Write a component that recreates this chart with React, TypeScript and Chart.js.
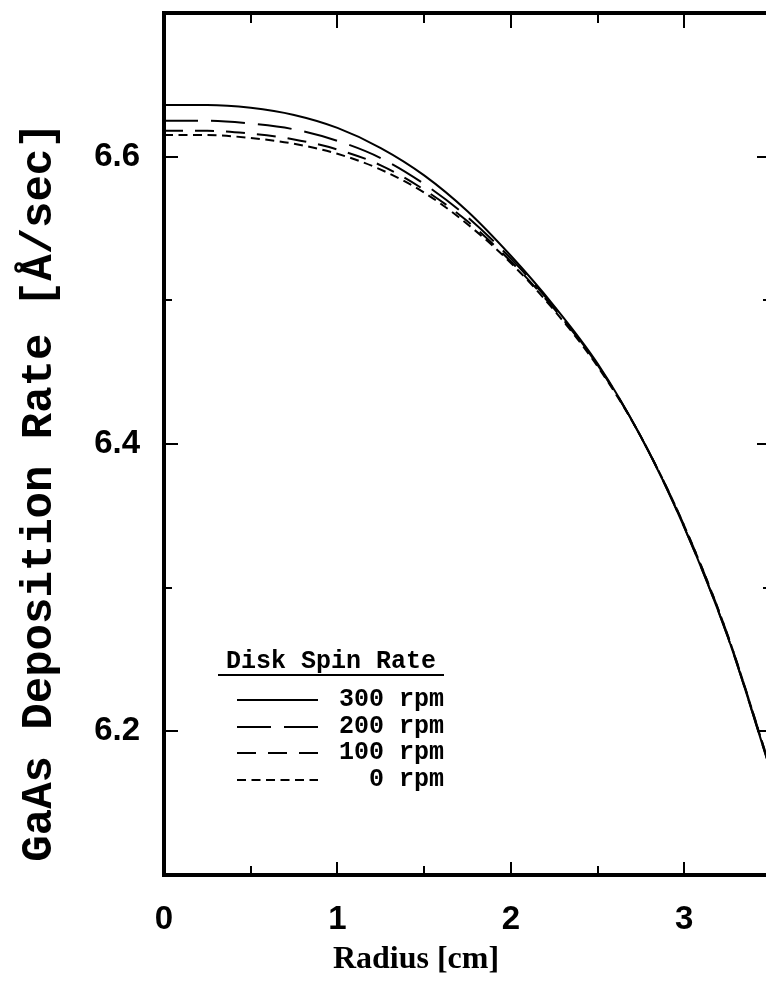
import React, { useEffect, useRef } from 'react';
import { Chart, registerables } from 'chart.js';

Chart.register(...registerables);

// ---- data ----
const RADIUS = [0, 0.25, 0.5, 0.75, 1.0, 1.25, 1.5, 1.75, 2.0, 2.25, 2.5, 2.75, 3.0, 3.25, 3.5];
const RATE_300 = [6.636, 6.636, 6.634, 6.629, 6.620, 6.606, 6.587, 6.562, 6.531, 6.496, 6.456, 6.405, 6.342, 6.266, 6.172];
const RATE_200 = [6.625, 6.625, 6.623, 6.619, 6.611, 6.599, 6.581, 6.558, 6.529, 6.495, 6.455, 6.405, 6.342, 6.266, 6.172];
const RATE_100 = [6.618, 6.618, 6.616, 6.612, 6.605, 6.594, 6.577, 6.555, 6.527, 6.494, 6.455, 6.405, 6.343, 6.267, 6.173];
const RATE_0 = [6.615, 6.615, 6.613, 6.609, 6.602, 6.591, 6.575, 6.553, 6.526, 6.493, 6.454, 6.405, 6.343, 6.267, 6.173];

const SERIES_LABELS = ['300 rpm', '200 rpm', '100 rpm', '0 rpm'];
const SERIES_DASH = [[], [34, 13], [19, 12], [9, 5.5]];

const X_TICK_LABELS = [0, 1, 2, 3];
const Y_TICK_LABELS = [6.2, 6.4, 6.6];
const X_TICK_MARKS = [0.5, 1, 1.5, 2, 2.5, 3];
const Y_TICK_MARKS = [6.2, 6.3, 6.4, 6.5, 6.6];

const X_TITLE = 'Radius [cm]';
const Y_TITLE = 'GaAs Deposition Rate [Å/sec]';
const LEGEND_TITLE = 'Disk Spin Rate';

const X_MIN = 0;
const X_MAX = 3.5;
const Y_MIN = 6.1;
const Y_MAX = 6.7;

const MONO = '"Liberation Mono", "DejaVu Sans Mono", monospace';
const SERIF = '"Liberation Serif", "DejaVu Serif", serif';
const SANS = '"Liberation Sans", Arial, sans-serif';

const isMajor = (v: number, step: number) => Math.abs(v / step - Math.round(v / step)) < 1e-6;

const decorPlugin = {
  id: 'decor',
  afterDatasetsDraw(chart: any) {
    const { ctx, chartArea: a, scales } = chart;
    const x = scales.x;
    const y = scales.y;
    ctx.save();
    ctx.strokeStyle = '#000';
    ctx.lineCap = 'butt';
    ctx.lineWidth = 2;
    ctx.beginPath();
    for (const v of X_TICK_MARKS) {
      const px = Math.round(x.getPixelForValue(v));
      const major = isMajor(v, 1);
      ctx.moveTo(px, a.bottom);
      ctx.lineTo(px, a.bottom - (major ? 13 : 9));
      ctx.moveTo(px, a.top);
      ctx.lineTo(px, a.top + (major ? 15 : 10));
    }
    for (const v of Y_TICK_MARKS) {
      const py = Math.round(y.getPixelForValue(v));
      const major = isMajor(v - 6.2, 0.2);
      ctx.moveTo(a.left, py);
      ctx.lineTo(a.left + (major ? 14 : 8), py);
      ctx.moveTo(a.right, py);
      ctx.lineTo(a.right - (major ? 14 : 8), py);
    }
    ctx.stroke();
    ctx.lineWidth = 4;
    ctx.strokeRect(a.left, a.top, a.right - a.left, a.bottom - a.top);
    ctx.restore();
  },
  afterDraw(chart: any) {
    const { ctx } = chart;
    ctx.save();
    ctx.fillStyle = '#000';
    ctx.strokeStyle = '#000';

    ctx.font = `bold 32px ${SERIF}`;
    ctx.textAlign = 'center';
    ctx.textBaseline = 'middle';
    ctx.fillText(X_TITLE, 416, 960);

    ctx.save();
    ctx.translate(40, 492);
    ctx.rotate(-Math.PI / 2);
    ctx.font = `bold 44px ${MONO}`;
    ctx.fillText(Y_TITLE, 0, 0);
    ctx.restore();

    ctx.font = `bold 25px ${MONO}`;
    ctx.textAlign = 'left';
    ctx.textBaseline = 'middle';
    ctx.fillText(LEGEND_TITLE, 226, 662);
    ctx.lineWidth = 2;
    ctx.beginPath();
    ctx.moveTo(218, 675);
    ctx.lineTo(444, 675);
    ctx.stroke();

    const rows = [700, 727, 753, 780];
    chart.data.datasets.forEach((ds: any, i: number) => {
      const yy = rows[i];
      ctx.setLineDash(SERIES_DASH[i]);
      ctx.beginPath();
      ctx.moveTo(237, yy);
      ctx.lineTo(318, yy);
      ctx.stroke();
      ctx.setLineDash([]);
      ctx.textAlign = 'right';
      ctx.fillText(ds.label, 444, yy);
    });
    ctx.restore();
  },
};

export default function App() {
  const canvasRef = useRef<HTMLCanvasElement | null>(null);

  useEffect(() => {
    const canvas = canvasRef.current;
    if (!canvas) return;
    const seriesValues = [RATE_300, RATE_200, RATE_100, RATE_0];
    const chart = new Chart(canvas, {
      type: 'line',
      data: {
        datasets: seriesValues.map((vals, i) => ({
          label: SERIES_LABELS[i],
          data: RADIUS.map((r, j) => ({ x: r, y: vals[j] })),
          borderColor: '#000',
          backgroundColor: '#000',
          borderWidth: 2,
          borderDash: SERIES_DASH[i],
          pointRadius: 0,
          fill: false,
          cubicInterpolationMode: 'monotone' as const,
        })),
      },
      options: {
        responsive: false,
        animation: false,
        events: [],
        layout: { padding: { top: 13, right: 1, left: 0, bottom: 0 } },
        plugins: {
          legend: { display: false },
          tooltip: { enabled: false },
          title: { display: false },
        },
        scales: {
          x: {
            type: 'linear',
            min: X_MIN,
            max: X_MAX,
            afterBuildTicks: (s: any) => {
              s.ticks = X_TICK_LABELS.map((v) => ({ value: v }));
            },
            afterFit: (s: any) => {
              s.height = 121;
              s.paddingLeft = 0;
              s.paddingRight = 0;
              s.paddingTop = 0;
              s.paddingBottom = 0;
            },
            grid: { display: false, drawTicks: false },
            border: { display: false },
            ticks: {
              color: '#000',
              padding: 25,
              maxRotation: 0,
              autoSkip: false,
              font: { family: SANS, size: 33, weight: 'bold' },
              callback: (v: any) => String(v),
            },
          },
          y: {
            type: 'linear',
            min: Y_MIN,
            max: Y_MAX,
            afterBuildTicks: (s: any) => {
              s.ticks = Y_TICK_LABELS.map((v) => ({ value: v }));
            },
            afterFit: (s: any) => {
              s.width = 164;
              s.paddingLeft = 0;
              s.paddingRight = 0;
              s.paddingTop = 0;
              s.paddingBottom = 0;
            },
            grid: { display: false, drawTicks: false },
            border: { display: false },
            ticks: {
              color: '#000',
              padding: 24,
              autoSkip: false,
              font: { family: SANS, size: 33, weight: 'bold' },
              callback: (v: any) => Number(v).toFixed(1),
            },
          },
        },
      },
      plugins: [decorPlugin],
    });
    return () => chart.destroy();
  }, []);

  return (
    <div
      style={{
        position: 'fixed',
        left: 0,
        top: 0,
        width: 766,
        height: 996,
        overflow: 'hidden',
        background: '#fff',
      }}
    >
      <canvas
        ref={canvasRef}
        width={772}
        height={996}
        style={{ display: 'block', width: 772, height: 996 }}
      />
    </div>
  );
}
